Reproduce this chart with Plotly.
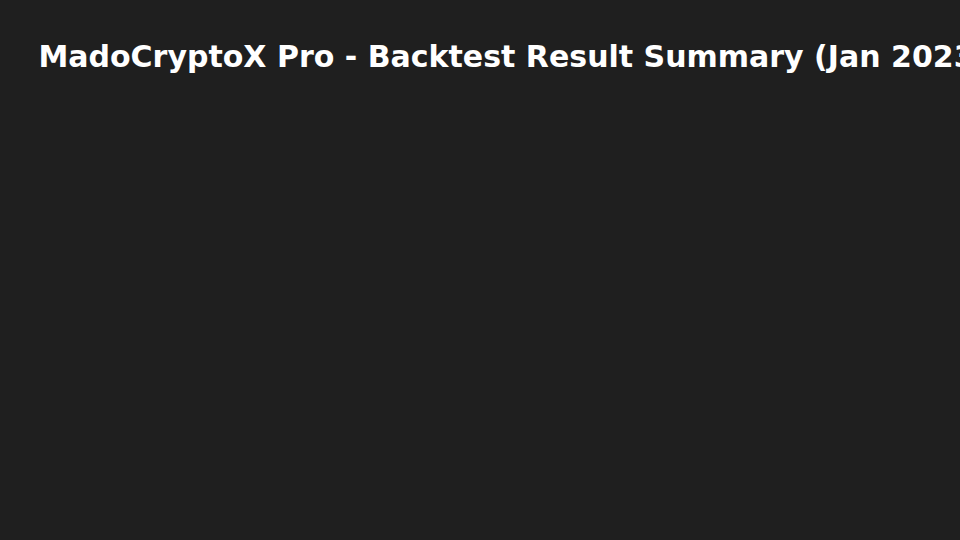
import plotly.graph_objects as go

# summary period and strategy name shown in the title
strategy = "MadoCryptoX Pro"
period_start = "Jan 2023"
period_end = "Dec 2023"

# nothing else is drawn in the reference: only the title over a dark page
months = []
returns = []

fig = go.Figure()

fig.add_trace(go.Scatter(
    x=months,
    y=returns,
    mode="lines",
    showlegend=False
))

fig.update_layout(
    title=dict(
        text=f"<b>{strategy} - Backtest Result Summary ({period_start} - {period_end})</b>",
        font=dict(family="DejaVu Sans", size=30, color="#ffffff"),
        xref="container",
        x=0.04,
        xanchor="left",
        yref="container",
        y=1 - 56 / 540,
        yanchor="middle"
    ),
    paper_bgcolor="#1f1f1f",
    plot_bgcolor="#1f1f1f",
    xaxis=dict(visible=False),
    yaxis=dict(visible=False),
    margin=dict(l=40, r=40, t=100, b=40),
    width=960,
    height=540
)

fig.write_html(
    "out.html",
    config={"displayModeBar": False},
    post_script="document.body.style.margin='0';document.body.style.background='#1f1f1f';"
)
